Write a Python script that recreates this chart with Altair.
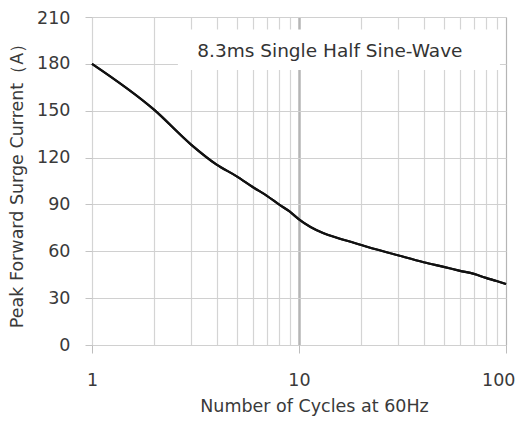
import altair as alt
import pandas as pd

cycles = [1, 2, 3, 4, 5, 6, 7, 8, 9, 10, 20, 30, 40, 50, 60, 70, 80, 90, 100]
current = [180, 150.5, 128.5, 115.5, 108, 101, 95.5, 90, 85.5, 80.5, 64, 57.5, 53, 50, 47.5, 45.5, 43, 41, 39]

x_grid = [1, 2, 3, 4, 5, 6, 7, 8, 9, 10, 20, 30, 40, 50, 60, 70, 80, 90, 100]
y_ticks = [0, 30, 60, 90, 120, 150, 180, 210]

note_text = ["8.3ms Single Half Sine-Wave"]
note_x = [14.1]
note_y = [188.5]
box_x = [2.6]
box_x2 = [93.5]
box_y = [176]
box_y2 = [202]

FONT = "DejaVu Sans"
FS = 17.5

df = pd.DataFrame({"cycles": cycles, "current": current})
box_df = pd.DataFrame({"x": box_x, "x2": box_x2, "y": box_y, "y2": box_y2})
note_df = pd.DataFrame({"x": note_x, "y": note_y, "t": note_text})

xscale = alt.Scale(type="log", domain=[1, 100])
yscale = alt.Scale(domain=[0, 210])

major_test = "datum.value == 1 || datum.value == 10 || datum.value == 100"

x_axis = alt.Axis(
    values=x_grid,
    title="Number of Cycles at 60Hz",
    labelExpr="(" + major_test + ") ? datum.label : ''",
    labelFont=FONT, titleFont=FONT,
    labelFontSize=FS, titleFontSize=FS,
    labelColor="#3a3a3a", titleColor="#3a3a3a",
    titleFontWeight="normal",
    labelPadding=18, titlePadding=9,
    titleX=222, titleAlign="center",
    labelAlign={"condition": {"test": "datum.value == 100", "value": "right"}, "value": "center"},
    labelOffset={"condition": {"test": "datum.value == 100", "value": 9}, "value": 0},
    domain=False,
    tickSize=8,
    tickColor="#bdbdbd",
    tickOpacity={"condition": {"test": major_test, "value": 1}, "value": 0},
    grid=True,
    gridColor={"condition": {"test": "datum.value == 10 || datum.value == 100", "value": "#b5b5b5"}, "value": "#d4d4d4"},
    gridWidth={"condition": {"test": "datum.value == 10", "value": 2.5}, "value": 1.2},
    labelFlush=False,
)

y_axis = alt.Axis(
    values=y_ticks,
    title="Peak Forward Surge Current（A）",
    labelFont=FONT, titleFont=FONT,
    labelFontSize=FS, titleFontSize=FS,
    labelColor="#3a3a3a", titleColor="#3a3a3a",
    titleFontWeight="normal",
    labelPadding=15, titlePadding=10,
    labelOffset={"condition": {"test": "datum.value == 210", "value": 1.5}, "value": 0},
    domain=False,
    tickSize=7,
    tickColor="#c4c4c4",
    grid=True,
    gridColor="#d0d0d0",
    gridWidth=1.2,
)

line = alt.Chart(df).mark_line(color="#111111", strokeWidth=2.2, interpolate="monotone").encode(
    x=alt.X("cycles:Q", scale=xscale, axis=x_axis),
    y=alt.Y("current:Q", scale=yscale, axis=y_axis),
)

box = alt.Chart(box_df).mark_rect(color="white").encode(
    x=alt.X("x:Q", scale=xscale),
    x2="x2:Q",
    y=alt.Y("y:Q", scale=yscale),
    y2="y2:Q",
)

note = alt.Chart(note_df).mark_text(
    font=FONT, fontSize=18.5, color="#333333", align="center", baseline="middle"
).encode(
    x=alt.X("x:Q", scale=xscale),
    y=alt.Y("y:Q", scale=yscale),
    text="t:N",
)

chart = alt.layer(line, box, note, line).properties(
    width=414,
    height=328,
    autosize=alt.AutoSizeParams(type="none"),
    padding={"left": 84, "top": 9, "right": 9, "bottom": 72},
).configure_view(stroke=None).configure(background="white")

chart.save("out.html", embed_options={"renderer": "svg", "actions": False})
